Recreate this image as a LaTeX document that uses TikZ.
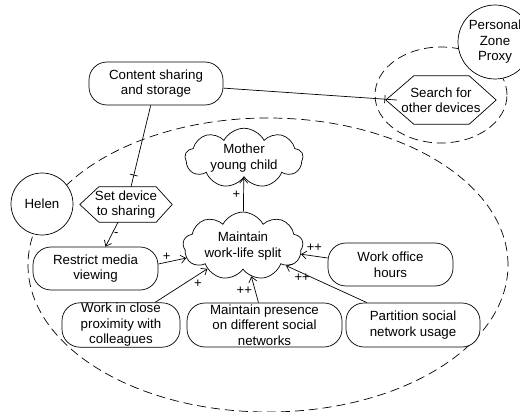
\documentclass[tikz,border=0pt]{standalone}
\usepackage{fontspec}
\setmainfont{Liberation Sans}
\usetikzlibrary{shapes.geometric,shapes.symbols,arrows.meta,decorations.markings,calc}
\begin{document}
\begin{tikzpicture}[x=1pt,y=-1pt,
  every node/.style={font=\fontsize{13.3}{15.5}\selectfont},
  base/.style={draw, line width=0.7pt, fill=white, align=center, inner sep=0.5pt},
  goal/.style={base, rounded corners=18pt},
  task/.style={align=center, inner sep=0pt},
  hexa/.style={draw, line width=0.7pt},
  soft/.style={base, cloud, cloud puffs=9, cloud puff arc=125, aspect=2.3},
  actor/.style={base, circle},
  bound/.style={draw, line width=0.7pt, dash pattern=on 9pt off 5pt},
  link/.style={draw, line width=0.7pt, -{Straight Barb[length=5pt,width=8pt]}},
  dec/.style={draw, line width=0.7pt, postaction={decorate},
    decoration={markings, mark=at position 1 with {\draw[line width=0.7pt] (-12pt,-4pt) -- (-12pt,4pt);}}},
  lbl/.style={font=\fontsize{13}{13}\selectfont, inner sep=1pt}
]
\useasboundingbox (0,0) rectangle (520,412);
% boundaries
\node[bound, ellipse, minimum width=480pt, minimum height=294pt] (hb) at (268,265) {};
\node[bound, ellipse, minimum width=132pt, minimum height=96pt] (pb) at (441,95) {};
% actors
\node[actor, minimum size=62pt] (helen) at (42,204) {Helen};
\node[actor, minimum size=74pt, inner sep=0pt] (pzp) at (495,42) {Personal\\Zone\\Proxy};
% goals
\node[goal, minimum width=134pt, minimum height=43pt] (cs) at (156,83.5) {Content sharing\\and storage};
\node[goal, minimum width=125pt, minimum height=43pt] (rmv) at (95.5,268.5) {Restrict media\\viewing};
\node[goal, minimum width=118pt, minimum height=44pt] (wcp) at (121,325) {Work in close\\proximity with\\colleagues};
\node[goal, minimum width=155pt, minimum height=44pt] (mp) at (264.5,325) {Maintain presence\\on different social\\networks};
\node[goal, minimum width=125pt, minimum height=43pt] (woh) at (390.5,264.5) {Work office\\hours};
\node[goal, minimum width=134pt, minimum height=44pt] (pnu) at (413,325) {Partition social\\network usage};
% tasks
\node[task, minimum width=92pt, minimum height=35pt] (sd) at (126,204.5) {Set device\\to sharing};
\draw[hexa] (sd.west) -- ([xshift=19pt]sd.north west) -- ([xshift=-16pt]sd.north east) -- (sd.east)
  -- ([xshift=-16pt]sd.south east) -- ([xshift=19pt]sd.south west) -- cycle;
\node[task, minimum width=110pt, minimum height=48pt] (sod) at (441,100) {Search for\\other devices};
\draw[hexa] (sod.west) -- ([xshift=28pt]sod.north west) -- ([xshift=-27pt]sod.north east) -- (sod.east)
  -- ([xshift=-27pt]sod.south east) -- ([xshift=28pt]sod.south west) -- cycle;
% softgoals
\node[soft, minimum width=118pt, minimum height=50pt] (myc) at (244,158) {Mother\\young child};
\node[soft, minimum width=120pt, minimum height=58pt] (wls) at (243,246) {Maintain\\work-life split};
% links
\coordinate (sodin) at ($(sod.west)+(11,0)$);
\draw[dec] (cs) -- (sodin);
\draw[dec] (cs) -- ([xshift=5pt]sd.north);
\draw[link] (wls) -- (myc) node[lbl, midway, left=2pt] (l1) {+};
\draw[link] ([xshift=-8pt]sd.south) -- ([xshift=10pt]rmv.north) node[lbl, midway, right=1pt] (l2) {-};
\draw[link] ([yshift=4.5pt]rmv.east) -- (wls) node[lbl, pos=0.3, above] (l3) {+};
\draw[link] ([xshift=34pt]wcp.north) -- (wls) node[lbl, pos=0.72, below right=0pt] (l4) {+};
\draw[link] ([xshift=-6pt]mp.north) -- (wls) node[lbl, pos=0.45, left=2pt] (l5) {++};
\draw[link] ([yshift=6.5pt]woh.west) -- (wls) node[lbl, midway, above=3pt] (l6) {++};
\draw[link] ([xshift=-46pt]pnu.north) -- (wls) node[lbl, pos=0.8, below] (l7) {++};
\end{tikzpicture}
\end{document}
